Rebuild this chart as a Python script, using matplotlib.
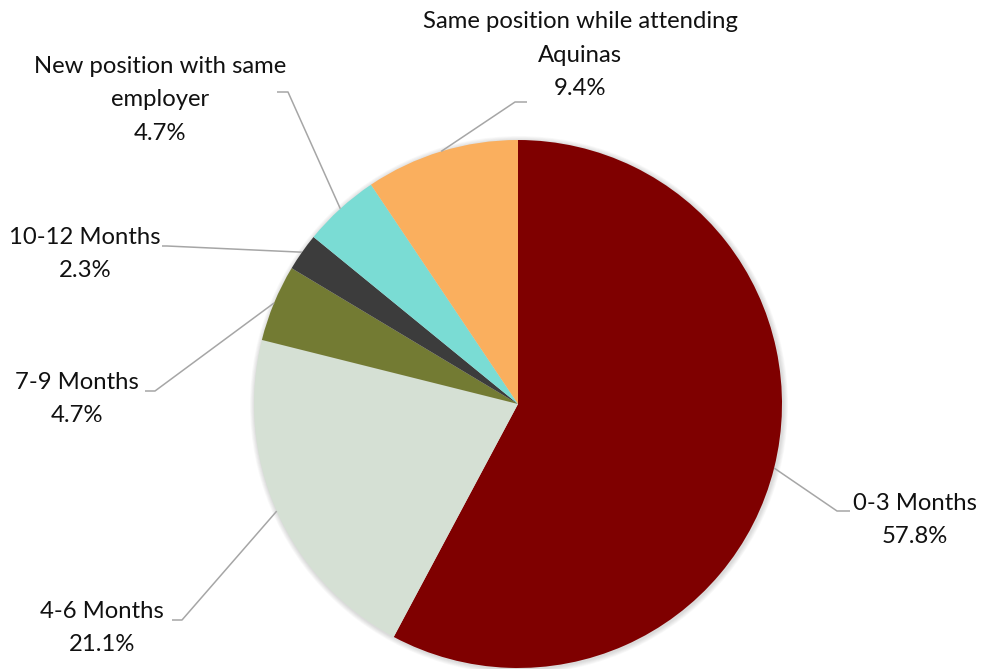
import numpy as np
import matplotlib.pyplot as plt
from matplotlib.patches import Circle

labels = ["0-3 Months", "4-6 Months", "7-9 Months", "10-12 Months",
          "New position with same\nemployer", "Same position while attending\nAquinas"]
shares = [57.8, 21.1, 4.7, 2.3, 4.7, 9.4]
colors = ["#7F0000", "#D5E0D4", "#737B33", "#3C3C3C", "#7ADCD4", "#FAAF5E"]

W, H = 985, 669
cx, cy, R = 518, H - 404, 264

# label centre, leader elbow, leader end (pixel coords, y from top)
layout = [
    ((915, 520), (837, 511), (850, 511)),
    ((102, 628), (182, 620), (172, 620)),
    ((77, 399), (155, 391), (145, 391)),
    ((85, 254), (167, 246), (162, 246)),
    ((160, 100), (288, 92), (277, 92)),
    ((580, 55), (515, 102), (527, 102)),
]

plt.rcParams["font.family"] = ["Lato", "DejaVu Sans"]
fig = plt.figure(figsize=(W / 100, H / 100), dpi=100)
ax = fig.add_axes([0, 0, 1, 1])

# soft shadow round the pie
for k in range(6):
    ax.add_patch(Circle((cx + 1, cy - 1), R + 1 + k * 0.8, color="black",
                        alpha=0.025, lw=0, zorder=0))

wedges, _ = ax.pie(shares, colors=colors, startangle=90, counterclock=False,
                   center=(cx, cy), radius=R, wedgeprops=dict(lw=0, zorder=1))

for w, lab, val, (txt, elbow, end) in zip(wedges, labels, shares, layout):
    mid = np.deg2rad((w.theta1 + w.theta2) / 2)
    x0, y0 = cx + R * np.cos(mid), cy + R * np.sin(mid)
    ax.plot([x0, elbow[0], end[0]], [y0, H - elbow[1], H - end[1]],
            color="#A6A6A6", lw=1.1, zorder=2, solid_capstyle="butt")
    ax.text(txt[0], H - txt[1], f"{lab}\n{val:.1f}%", ha="center", va="center",
            fontsize=17.2, color="#111111", linespacing=1.72)

ax.set_xlim(0, W)
ax.set_ylim(0, H)
ax.set_aspect("equal")
ax.axis("off")
fig.savefig("out.png", dpi=100, facecolor="white")
